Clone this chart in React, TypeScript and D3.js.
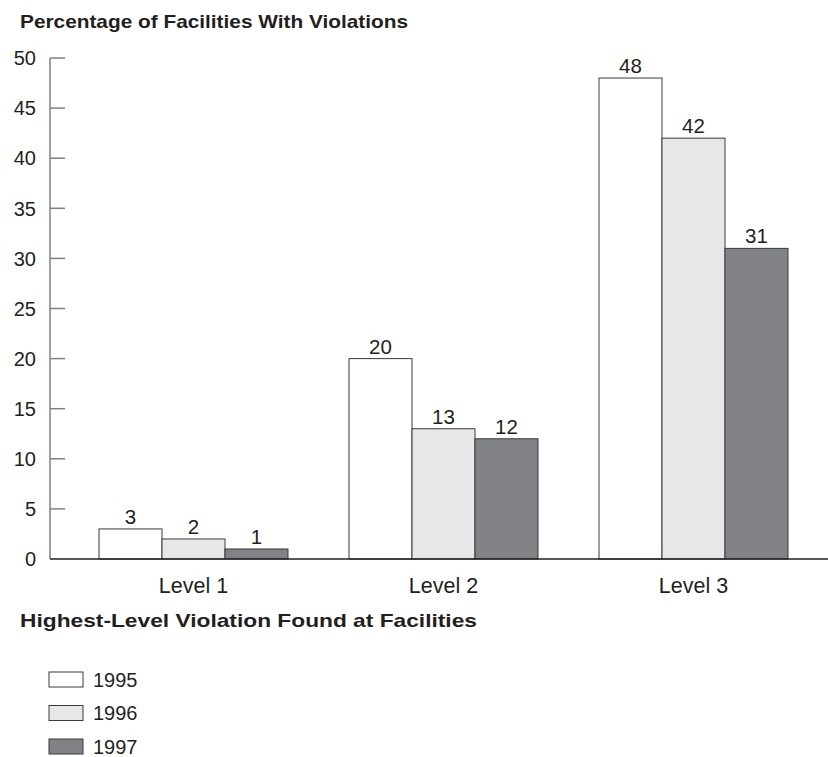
import React from "react";
import * as d3 from "d3";

// Chart values
const levels = ["Level 1", "Level 2", "Level 3"];
const years = ["1995", "1996", "1997"];
const pct1995 = [3, 20, 48];
const pct1996 = [2, 13, 42];
const pct1997 = [1, 12, 31];
const yTicks = [0, 5, 10, 15, 20, 25, 30, 35, 40, 45, 50];

const fills = ["#ffffff", "#e6e7e8", "#808285"];
const font = "Arial, 'Liberation Sans', sans-serif";

export default function App() {
  const width = 828, height = 757;
  const series = [pct1995, pct1996, pct1997];

  // y scale: 0 at the baseline, 50 at the top tick
  const y = d3.scaleLinear().domain([0, 50]).range([559, 58]);

  // group bands and bars within each group
  const x0 = d3.scaleBand()
    .domain(levels)
    .range([68.5, 818.5])
    .paddingInner(0.244)
    .paddingOuter(0.122);
  const x1 = d3.scaleBand()
    .domain(years)
    .range([0, x0.bandwidth()]);

  const axisX = 50;

  return (
    <svg width={width} height={height} style={{ position: "absolute", left: 0, top: 0, background: "#fff" }}
      fontFamily={font}>
      <text x={20} y={28} fontSize={18.5} fontWeight="bold" fill="#231f20"
        textLength={388} lengthAdjust="spacingAndGlyphs">
        Percentage of Facilities With Violations
      </text>

      {/* y axis */}
      <line x1={axisX} x2={axisX} y1={y(50)} y2={y(0)} stroke="#808080" strokeWidth={1.5} />
      {yTicks.map(t => (
        <g key={t}>
          {t > 0 && <line x1={axisX} x2={axisX + 15} y1={y(t)} y2={y(t)} stroke="#808080" strokeWidth={1.5} />}
          <text x={36} y={y(t)} dy="0.36em" textAnchor="end" fontSize={20} fill="#231f20">{t}</text>
        </g>
      ))}

      {/* bars */}
      {levels.map((lv, i) => (
        <g key={lv} transform={`translate(${x0(lv)},0)`}>
          {years.map((yr, j) => {
            const v = series[j][i];
            return (
              <g key={yr}>
                <rect x={x1(yr)} y={y(v)} width={x1.bandwidth()} height={y(0) - y(v)}
                  fill={fills[j]} stroke="#3a3a3a" strokeWidth={1} />
                <text x={(x1(yr) as number) + x1.bandwidth() / 2} y={y(v) - 5}
                  textAnchor="middle" fontSize={20.5} fill="#231f20">{v}</text>
              </g>
            );
          })}
        </g>
      ))}

      {/* baseline */}
      <line x1={axisX} x2={width} y1={y(0)} y2={y(0)} stroke="#231f20" strokeWidth={1.5} />

      {levels.map(lv => (
        <text key={lv} x={(x0(lv) as number) + x0.bandwidth() / 2} y={593} textAnchor="middle"
          fontSize={21.5} fill="#231f20">{lv}</text>
      ))}

      <text x={20} y={627} fontSize={18.5} fontWeight="bold" fill="#231f20"
        textLength={457} lengthAdjust="spacingAndGlyphs">
        Highest-Level Violation Found at Facilities
      </text>

      {/* legend */}
      {years.map((yr, j) => (
        <g key={yr} transform={`translate(49,${672 + j * 33.5})`}>
          <rect x={0} y={0} width={34} height={15} fill={fills[j]} stroke="#3a3a3a" strokeWidth={1} />
          <text x={44} y={14.5} fontSize={20} fill="#231f20">{yr}</text>
        </g>
      ))}
    </svg>
  );
}
